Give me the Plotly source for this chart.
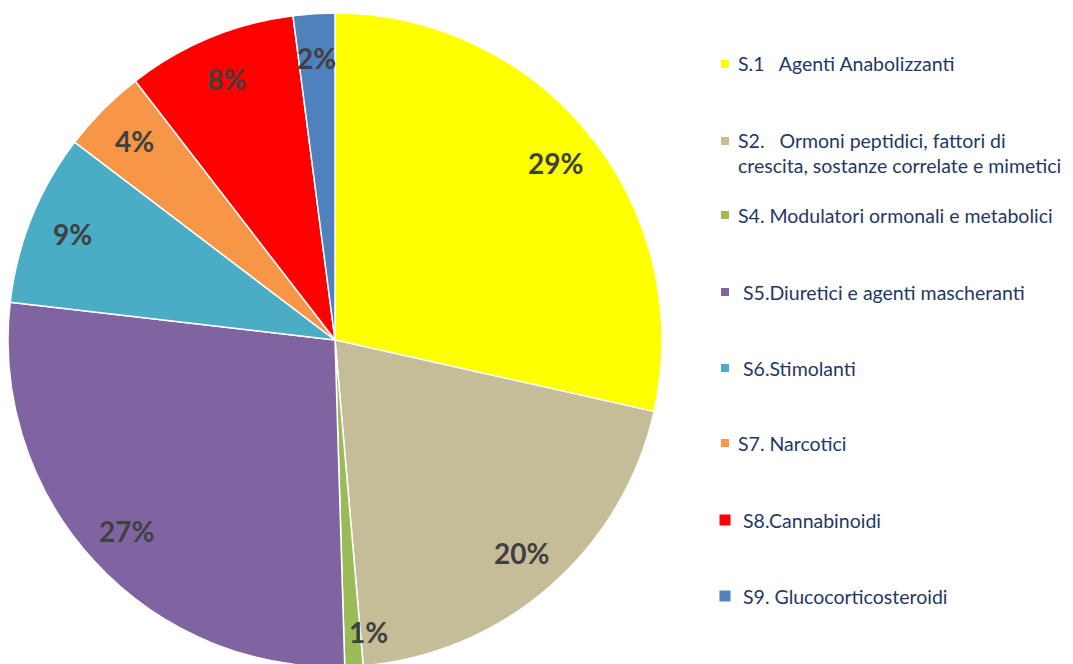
import math
import plotly.graph_objects as go

categories = [
    "S.1\u00a0\u00a0\u00a0Agenti Anabolizzanti",
    "S2.\u00a0\u00a0\u00a0Ormoni peptidici, fattori di<br>crescita, sostanze correlate e mimetici",
    "S4. Modulatori ormonali e metabolici",
    "\u00a0S5.Diuretici e agenti mascheranti",
    "\u00a0S6.Stimolanti",
    "S7. Narcotici",
    "\u00a0S8.Cannabinoidi",
    "\u00a0S9. Glucocorticosteroidi",
]
values = [28.5, 20.1, 0.9, 27.3, 8.5, 4.2, 8.4, 2.05]
colors = ["#FFFF00", "#C4BD97", "#9BBB59", "#8064A2", "#4BACC6", "#F79646", "#FF0000", "#4F81BD"]

W, H = 1073, 664
OFF = 8          # page body margin
MT, MB = 5, 5
PH = H - MT - MB
cx, cy, R = 335, 340, 327   # screen pixels

def px2x(sx):
    return (sx - OFF) / W

def py2y(sy):
    return 1 - (sy - OFF - MT) / PH

fig = go.Figure()
fig.add_trace(go.Pie(
    values=values,
    labels=categories,
    marker=dict(colors=colors, line=dict(color="white", width=1.5)),
    sort=False,
    direction="clockwise",
    rotation=0,
    textinfo="none",
    hoverinfo="label+percent",
    showlegend=False,
    domain=dict(x=[px2x(cx - R), px2x(cx + R)], y=[0, 1]),
))

total = sum(values)
cum = 0
annotations = []
nudge = {2: (17, 10)}
for i, v in enumerate(values):
    mid = (cum + v / 2) / total * 2 * math.pi
    cum += v
    rr = 0.865 * R
    lx = cx + rr * math.sin(mid)
    ly = cy - rr * math.cos(mid)
    dx, dy = nudge.get(i, (0, 0))
    annotations.append(dict(
        x=px2x(lx + dx), y=py2y(ly + dy), xref="paper", yref="paper",
        text=f"{round(v / total * 100):d}%", showarrow=False,
        font=dict(family="Lato", size=28, color="#404040", weight="bold"),
        xanchor="center", yanchor="middle",
    ))

# custom legend
leg_y = [64, 153, 215, 292, 368, 443, 520, 596]
leg_mark_y = [64, 141, 215, 292, 368, 443, 520, 596]
shapes = []
for i, cat in enumerate(categories):
    my = leg_mark_y[i]
    s = 8 if i < 6 else 11
    shapes.append(dict(
        type="rect", xref="paper", yref="paper",
        x0=px2x(725 - s / 2), x1=px2x(725 + s / 2),
        y0=py2y(my + s / 2), y1=py2y(my - s / 2),
        fillcolor=colors[i], line=dict(width=0),
    ))
    annotations.append(dict(
        x=px2x(736), y=py2y(leg_y[i]), xref="paper", yref="paper",
        text=cat, showarrow=False, align="left",
        font=dict(family="Lato", size=19.5, color="#1F3864"),
        xanchor="left", yanchor="middle",
    ))

fig.update_layout(
    width=W, height=H,
    margin=dict(l=0, r=0, t=MT, b=MB),
    paper_bgcolor="white",
    plot_bgcolor="white",
    annotations=annotations,
    shapes=shapes,
)

fig.write_html("out.html")
